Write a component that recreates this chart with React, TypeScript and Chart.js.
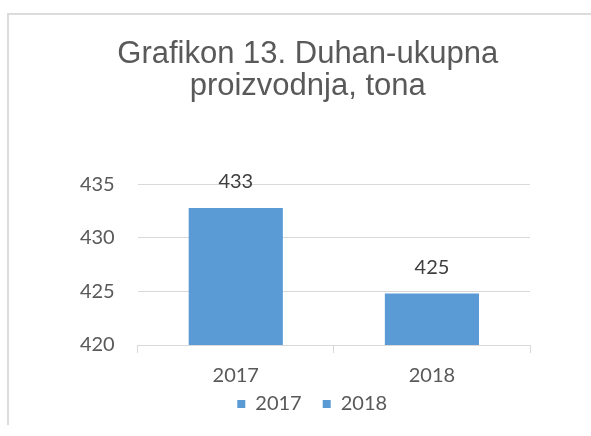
import React, { useEffect, useRef } from "react";
import { Chart, registerables } from "chart.js";

Chart.register(...registerables);

const categories: string[] = ["2017", "2018"];
const production: number[] = [432.8, 424.8];
const dataLabels: string[] = ["433", "425"];
const yMin = 420;
const yMax = 435;
const yStep = 5;
const titleLines: string[] = ["Grafikon 13. Duhan-ukupna", "proizvodnja, tona"];

const BAR_COLOR = "#5b9bd5";
const TEXT_COLOR = "#595959";
const GRID_COLOR = "#d9d9d9";
const FONT = "Lato";

const PAD_LEFT = 60;
const PAD_RIGHT = 61;

const dataLabelPlugin = {
  id: "dataLabelPlugin",
  afterDatasetsDraw(chart: any) {
    const ctx = chart.ctx;
    const meta = chart.getDatasetMeta(0);
    ctx.save();
    ctx.font = `20px ${FONT}`;
    ctx.fillStyle = "#404040";
    ctx.textAlign = "center";
    ctx.textBaseline = "middle";
    meta.data.forEach((bar: any, i: number) => {
      ctx.fillText(dataLabels[i], bar.x, bar.y - 26.5);
    });
    ctx.restore();
  },
};

// shift the title and legend blocks to where they sit in the reference
const blockShiftPlugin = {
  id: "blockShiftPlugin",
  afterLayout(chart: any) {
    const t = chart.titleBlock;
    if (t) {
      t.left += 12.7;
      t.right += 12.7;
    }
    const l = chart.legend;
    if (l) {
      l.left += 17.2;
      l.right += 17.2;
      l.top -= 12;
      l.bottom -= 12;
    }
  },
};

export default function App() {
  const canvasRef = useRef<HTMLCanvasElement | null>(null);

  useEffect(() => {
    if (!canvasRef.current) return;
    const chart = new Chart(canvasRef.current, {
      type: "bar",
      data: {
        labels: categories,
        datasets: [
          {
            label: "Proizvodnja",
            data: production,
            backgroundColor: BAR_COLOR,
            categoryPercentage: 1,
            barPercentage: 0.48,
          },
        ],
      },
      options: {
        responsive: false,
        animation: false,
        layout: { padding: { left: PAD_LEFT, right: PAD_RIGHT, top: 0, bottom: 0 } },
        plugins: {
          title: {
            display: true,
            text: titleLines,
            color: TEXT_COLOR,
            font: { family: "'Liberation Sans', Arial", size: 31, weight: "normal", lineHeight: 1.02 },
            padding: { top: 38.8, bottom: 82.3 },
          },
          legend: {
            display: true,
            position: "bottom",
            labels: {
              color: TEXT_COLOR,
              font: { family: FONT, size: 20 },
              boxWidth: 8,
              boxHeight: 8,
              padding: 21,
              generateLabels: () =>
                categories.map((c) => ({
                  text: c,
                  fillStyle: BAR_COLOR,
                  strokeStyle: BAR_COLOR,
                  lineWidth: 0,
                  hidden: false,
                  fontColor: TEXT_COLOR,
                })),
            },
          },
          tooltip: { enabled: false },
        },
        scales: {
          x: {
            grid: {
              offset: true,
              drawOnChartArea: false,
              drawTicks: true,
              tickLength: 8,
              color: GRID_COLOR,
            },
            border: { color: GRID_COLOR, width: 1 },
            ticks: { color: TEXT_COLOR, font: { family: FONT, size: 20 }, padding: 11 },
            afterFit: (scale: any) => {
              scale.height = 40;
            },
          },
          y: {
            min: yMin,
            max: yMax,
            ticks: {
              stepSize: yStep,
              color: TEXT_COLOR,
              font: { family: FONT, size: 20 },
              padding: 23,
            },
            grid: { color: GRID_COLOR, drawTicks: false, lineWidth: 1 },
            border: { display: false },
            afterFit: (scale: any) => {
              scale.width = 137.7 - PAD_LEFT;
            },
          },
        },
      },
      plugins: [dataLabelPlugin, blockShiftPlugin],
    } as any);
    return () => chart.destroy();
  }, []);

  return (
    <div style={{ position: "absolute", left: 0, top: 0, width: 591, height: 436, background: "#ffffff" }}>
      <div
        style={{
          position: "absolute",
          left: 7,
          top: 13,
          width: 584,
          height: 412,
          borderTop: "2px solid #dcdcdc",
          borderLeft: "2px solid #dcdcdc",
          boxSizing: "border-box",
        }}
      />
      <canvas ref={canvasRef} width={591} height={436} style={{ position: "absolute", left: 0, top: 0 }} />
    </div>
  );
}
